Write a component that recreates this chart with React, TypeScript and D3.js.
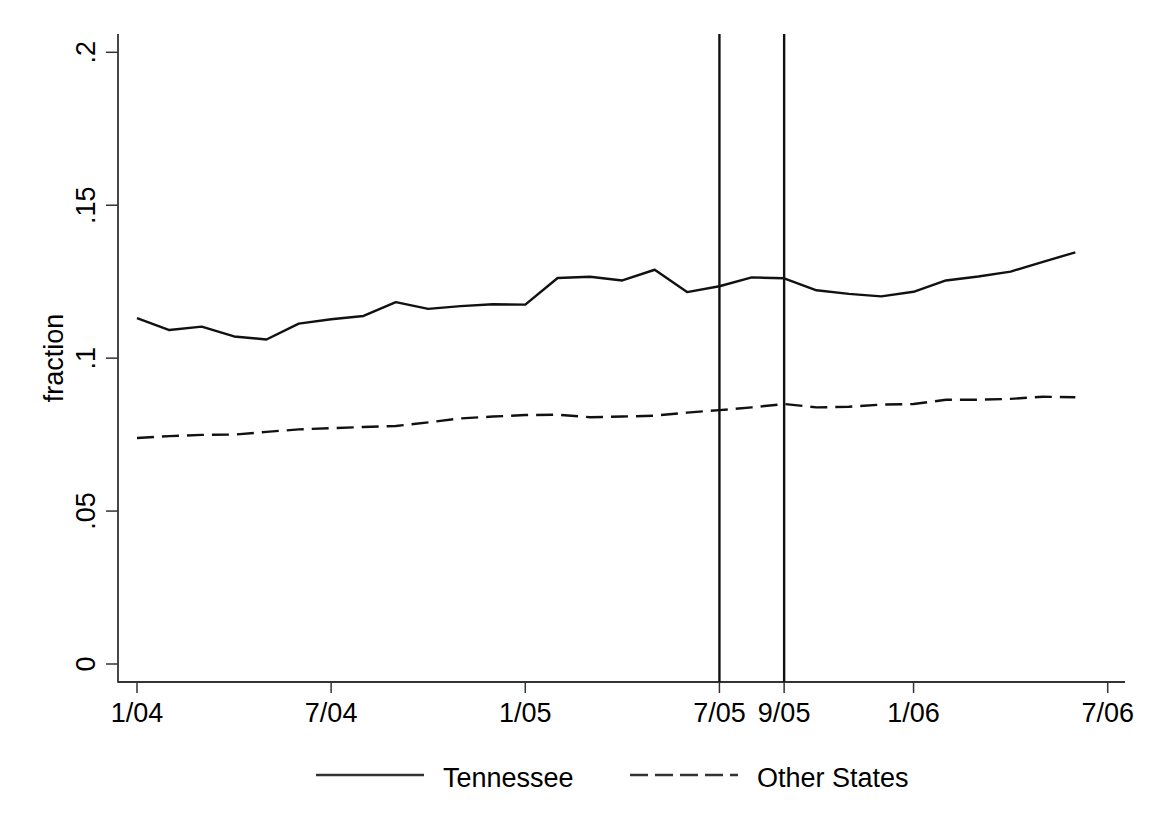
import { useEffect, useRef } from 'react';
import * as d3 from 'd3';

// months from 1/04 (index 0) to 6/06 (index 29)
const monthIndex = d3.range(0, 30);

const tennessee = [
  0.1131, 0.1092, 0.1103, 0.1071, 0.1061, 0.1113, 0.1127, 0.1138, 0.1183, 0.1161,
  0.1170, 0.1176, 0.1175, 0.1262, 0.1266, 0.1254, 0.1289, 0.1216, 0.1235, 0.1264,
  0.1261, 0.1222, 0.1210, 0.1202, 0.1217, 0.1254, 0.1267, 0.1283, 0.1315, 0.1346
];

const otherStates = [
  0.0739, 0.0745, 0.0749, 0.0750, 0.0759, 0.0767, 0.0771, 0.0775, 0.0778, 0.0790,
  0.0803, 0.0809, 0.0814, 0.0815, 0.0807, 0.0809, 0.0812, 0.0822, 0.0830, 0.0839,
  0.0850, 0.0839, 0.0841, 0.0848, 0.0850, 0.0864, 0.0864, 0.0867, 0.0874, 0.0872
];

const xTickIdx = [0, 6, 12, 18, 20, 24, 30];
const xTickLabels = ['1/04', '7/04', '1/05', '7/05', '9/05', '1/06', '7/06'];
const yTicks = [0, 0.05, 0.1, 0.15, 0.2];
const yTickLabels = ['0', '.05', '.1', '.15', '.2'];
const eventLines = [18, 20]; // 7/05 and 9/05

const seriesNames = ['Tennessee', 'Other States'];

export default function App() {
  const svgRef = useRef<SVGSVGElement>(null);

  useEffect(() => {
    if (!svgRef.current) return;
    const svg = d3.select(svgRef.current);
    svg.selectAll('*').remove();

    const width = 1151;
    const height = 839;
    const font = '"Liberation Sans", Arial, Helvetica, sans-serif';
    const axisColor = '#333';

    const plotLeft = 118;
    const plotRight = 1125;
    const plotTop = 34;
    const plotBottom = 682;

    const x = d3.scaleLinear().domain([0, 30]).range([137, 1107.7]);
    const y = d3.scaleLinear().domain([0, 0.2]).range([664, 52.3]);

    svg.append('rect')
      .attr('width', width)
      .attr('height', height)
      .attr('fill', 'white');

    // axes
    svg.append('line')
      .attr('x1', plotLeft).attr('x2', plotLeft)
      .attr('y1', plotTop).attr('y2', plotBottom + 0.8)
      .attr('stroke', axisColor).attr('stroke-width', 1.8);
    svg.append('line')
      .attr('x1', plotLeft).attr('x2', plotRight)
      .attr('y1', plotBottom).attr('y2', plotBottom)
      .attr('stroke', axisColor).attr('stroke-width', 1.8);

    // y ticks
    const yt = svg.append('g');
    yTicks.forEach((v, i) => {
      yt.append('line')
        .attr('x1', plotLeft - 12).attr('x2', plotLeft)
        .attr('y1', y(v)).attr('y2', y(v))
        .attr('stroke', axisColor).attr('stroke-width', 1.5);
      yt.append('text')
        .attr('transform', `translate(95,${y(v)}) rotate(-90)`)
        .attr('text-anchor', 'middle')
        .style('font-family', font)
        .style('font-size', '27px')
        .attr('fill', '#000')
        .text(yTickLabels[i]);
    });

    // x ticks
    const xt = svg.append('g');
    xTickIdx.forEach((m, i) => {
      xt.append('line')
        .attr('x1', x(m)).attr('x2', x(m))
        .attr('y1', plotBottom).attr('y2', plotBottom + 11)
        .attr('stroke', axisColor).attr('stroke-width', 1.5);
      xt.append('text')
        .attr('x', x(m))
        .attr('y', 722)
        .attr('text-anchor', 'middle')
        .style('font-family', font)
        .style('font-size', '27px')
        .attr('fill', '#000')
        .text(xTickLabels[i]);
    });

    // y axis title
    svg.append('text')
      .attr('transform', `translate(63,${(plotTop + plotBottom) / 2}) rotate(-90)`)
      .attr('text-anchor', 'middle')
      .style('font-family', font)
      .style('font-size', '27px')
      .attr('fill', '#000')
      .text('fraction');

    // event lines
    svg.selectAll('.event')
      .data(eventLines)
      .enter().append('line')
      .attr('class', 'event')
      .attr('x1', d => x(d)).attr('x2', d => x(d))
      .attr('y1', plotTop).attr('y2', plotBottom)
      .attr('stroke', '#111').attr('stroke-width', 2.4);

    const line = d3.line<number>()
      .x((_, i) => x(monthIndex[i]))
      .y(d => y(d));

    svg.append('path')
      .datum(tennessee)
      .attr('d', line)
      .attr('fill', 'none')
      .attr('stroke', '#111')
      .attr('stroke-width', 2.4)
      .attr('stroke-linejoin', 'round');

    svg.append('path')
      .datum(otherStates)
      .attr('d', line)
      .attr('fill', 'none')
      .attr('stroke', '#111')
      .attr('stroke-width', 2.4)
      .attr('stroke-dasharray', '17,8');

    // legend
    const legend = [
      { x1: 316, x2: 424, tx: 443, dash: null },
      { x1: 630, x2: 738, tx: 757, dash: '18,7' }
    ];
    legend.forEach((l, i) => {
      svg.append('line')
        .attr('x1', l.x1).attr('x2', l.x2)
        .attr('y1', 775).attr('y2', 775)
        .attr('stroke', '#333')
        .attr('stroke-width', 2.4)
        .attr('stroke-dasharray', l.dash);
      svg.append('text')
        .attr('x', l.tx)
        .attr('y', 787)
        .style('font-family', font)
        .style('font-size', '27px')
        .attr('fill', '#000')
        .text(seriesNames[i]);
    });
  }, []);

  return (
    <svg
      ref={svgRef}
      width={1151}
      height={839}
      style={{ position: 'absolute', left: 0, top: 0, display: 'block' }}
    />
  );
}
